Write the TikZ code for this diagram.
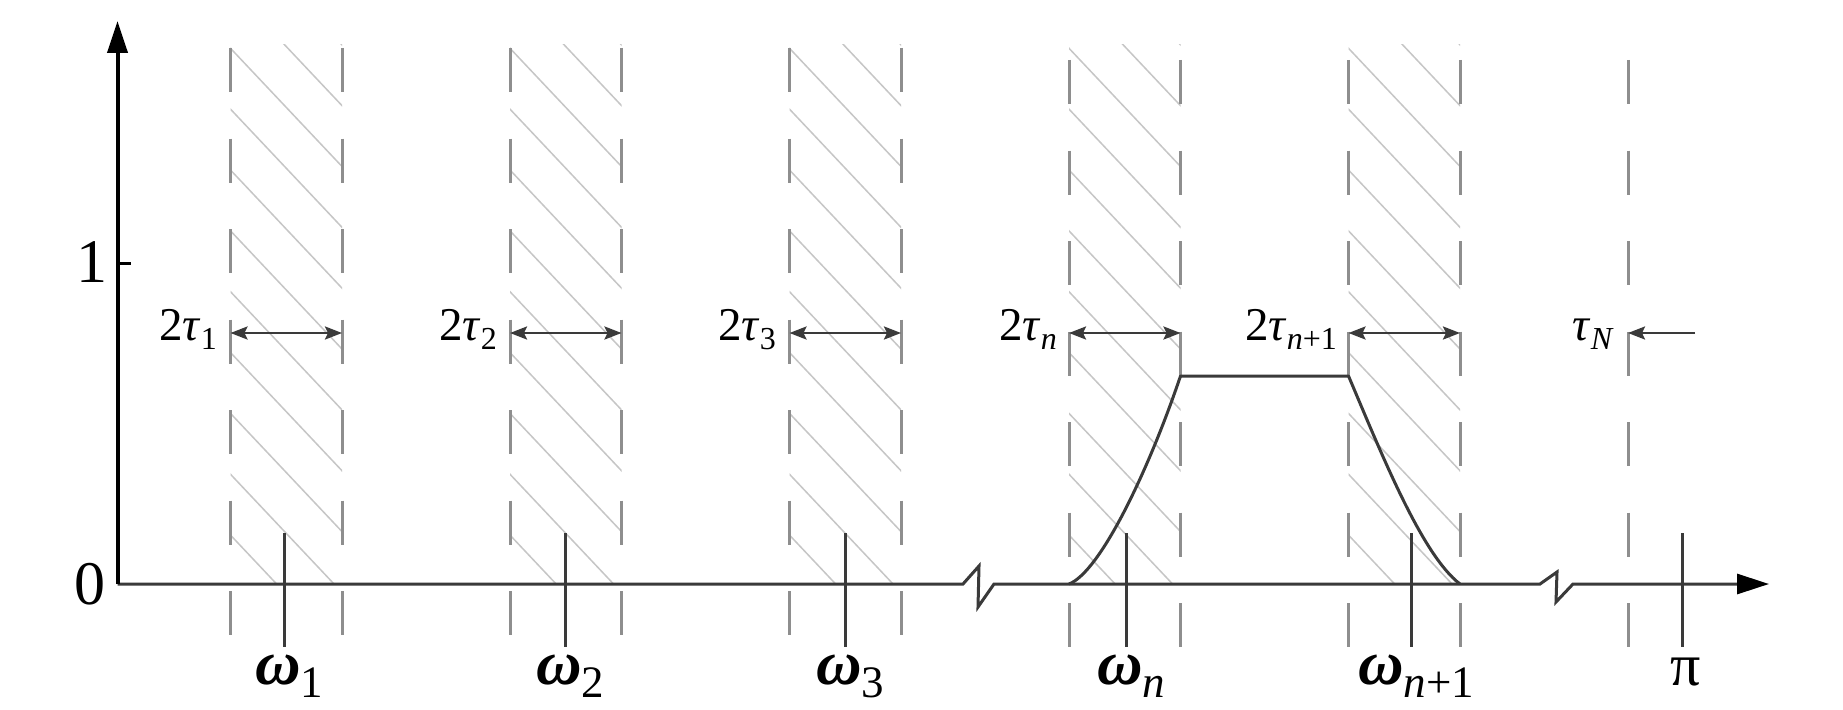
\documentclass[tikz,border=0pt]{standalone}
\usepackage{fontspec}
\setmainfont{Liberation Serif}
\usetikzlibrary{arrows.meta}
\newcommand\tsub[1]{\raisebox{-9pt}{\fontsize{32}{32}\selectfont #1}}
\newcommand\osub[1]{\raisebox{-13pt}{\fontsize{45}{45}\selectfont #1}}
\newcommand\gtau{\textit{τ}}
\newcommand\gomega{\textbf{\textit{ω}}}
\definecolor{axisgray}{HTML}{3A3A3A}
\definecolor{dashgray}{HTML}{8E8E8E}
\definecolor{hatchgray}{HTML}{C6C6C6}
\begin{document}
\begin{tikzpicture}[x=1pt,y=-1pt,
  hatch/.style={hatchgray,line width=1.5pt},
  bandedge/.style={dashgray,line width=3pt,dash pattern=on 44pt off 46.5pt},
  axisline/.style={axisgray,line width=3pt},
  tickline/.style={axisgray,line width=3pt},
  curveline/.style={axisgray,line width=3pt,line join=round},
  dimarrow/.style={axisgray,line width=2.5pt,{Stealth[length=17pt,width=13pt,inset=3pt]}-{Stealth[length=17pt,width=13pt,inset=3pt]}},
  onearrow/.style={axisgray,line width=2.5pt,-{Stealth[length=17pt,width=13pt,inset=3pt]}},
  taulbl/.style={inner sep=0pt,font=\fontsize{47}{47}\selectfont,anchor=base east},
  omlbl/.style={inner sep=0pt,font=\fontsize{63}{63}\selectfont,anchor=base west},
  numlbl/.style={inner sep=0pt,font=\fontsize{62}{62}\selectfont}]
\useasboundingbox[fill=white] (0,0) rectangle (1843,709);

% hatching of the bands
\foreach \xl in {230.5,510,789.5,1069,1348.5}{
  \begin{scope}
    \clip (\xl,45) rectangle (\xl+111.5,584);
    \foreach \k in {-2,...,9}
      \draw[hatch] (\xl-5,48.3+60.85*\k-5.3) -- ++(122,129.3);
  \end{scope}
}

% dashed band edges
\foreach \xl in {230.5,510,789.5}{
  \draw[bandedge] (\xl,48) -- (\xl,646);
  \draw[bandedge] (\xl+111.5,48) -- (\xl+111.5,646);
}
\foreach \xl in {1069,1348.5}{
  \draw[bandedge] (\xl,60) -- (\xl,650);
  \draw[bandedge] (\xl+111.5,60) -- (\xl+111.5,650);
}
\draw[bandedge] (1628,60) -- (1628,650);

% axes
\coordinate (O) at (117.5,584);
\coordinate (ytip) at (117.5,21);
\coordinate (xtip) at (1769,584);
\draw[axisline,-{Triangle[length=32pt,width=20pt,color=black]}] (O) -- (963,584) -- (979,566) -- (978,607) -- (994,584)
  -- (1540,584) -- (1557,572) -- (1556,602) -- (1573,584) -- (xtip);
\draw[black,line width=4pt,-{Triangle[length=32pt,width=20pt]}] (O) -- (ytip);
\draw[black,line width=3pt] (117.5,263) -- (131,263);
\node[numlbl] (zero) at (90,584) {0};
\node[numlbl] (one) at (92,262) {1};

% frequency ticks
\foreach \x in {284.4,565.4,845.1,1126,1411.7,1682}
  \draw[tickline] (\x,533) -- (\x,647);

% pass band
\draw[curveline] (1069,584) .. controls (1100,572) and (1148,472) .. (1180.5,376)
  -- (1348.5,376) .. controls (1382,455) and (1422,555) .. (1460,584);

% width arrows
\draw[dimarrow] (230.5,333) -- (342,333);
\draw[dimarrow] (510,333) -- (621.5,333);
\draw[dimarrow] (789.5,333) -- (901,333);
\draw[dimarrow] (1069,333) -- (1180.5,333);
\draw[dimarrow] (1348.5,333) -- (1460,333);
\draw[onearrow] (1695,333) -- (1628,333);

% width labels
\node[taulbl] (tau1) at (217,340) {2\gtau\tsub{1}};
\node[taulbl] (tau2) at (497,340) {2\gtau\tsub{2}};
\node[taulbl] (tau3) at (776,340) {2\gtau\tsub{3}};
\node[taulbl] (taun) at (1057,340) {2\gtau\tsub{\textit{n}}};
\node[taulbl] (taun1) at (1337,340) {2\gtau\tsub{\textit{n}+1}};
\node[taulbl] (tauN) at (1614,340) {\gtau\tsub{\textit{N}}};

% frequency labels
\node[omlbl] (w1) at (255,684) {\gomega\osub{1}};
\node[omlbl] (w2) at (536,684) {\gomega\osub{2}};
\node[omlbl] (w3) at (816,684) {\gomega\osub{3}};
\node[omlbl] (wn) at (1097,684) {\gomega\osub{\textit{n}}};
\node[omlbl] (wn1) at (1358,684) {\gomega\osub{\textit{n}+1}};
\node[inner sep=0pt,font=\fontsize{60}{60}\selectfont,anchor=base] (pi) at (1686,685) {π};
\end{tikzpicture}
\end{document}
